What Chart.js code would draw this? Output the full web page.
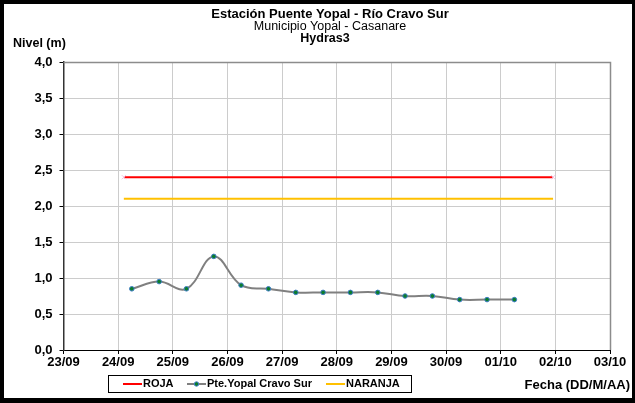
<!DOCTYPE html>
<html>
<head>
<meta charset="utf-8">
<script src="https://cdn.jsdelivr.net/npm/chart.js@4.4.0/dist/chart.umd.min.js"></script>
<style>
  body { margin: 0; background: #fff; }
  #wrap { width: 635px; height: 403px; }
</style>
</head>
<body>
<div id="wrap"><canvas id="nivelChart" width="635" height="403"></canvas></div>
<script>
// datos
const xTickLabels = ['23/09', '24/09', '25/09', '26/09', '27/09', '28/09', '29/09', '30/09', '01/10', '02/10', '03/10'];
const yTickLabels = ['0,0', '0,5', '1,0', '1,5', '2,0', '2,5', '3,0', '3,5', '4,0'];

const nivelTimes = ['24/09 06:00', '24/09 18:00', '25/09 06:00', '25/09 18:00', '26/09 06:00',
  '26/09 18:00', '27/09 06:00', '27/09 18:00', '28/09 06:00', '28/09 18:00',
  '29/09 06:00', '29/09 18:00', '30/09 06:00', '30/09 18:00', '01/10 06:00'];
const nivelValues = [0.85, 0.95, 0.85, 1.3, 0.9, 0.85, 0.8, 0.8, 0.8, 0.8, 0.75, 0.75, 0.7, 0.7, 0.7];

const alertaTimes = ['24/09 02:30', '01/10 23:00'];
const rojaValues = [2.4, 2.4];
const naranjaValues = [2.1, 2.1];

const seriesNames = ['ROJA', 'Pte.Yopal Cravo Sur', 'NARANJA'];

const titleLines = ['Estación Puente Yopal - Río Cravo Sur', 'Municipio Yopal - Casanare', 'Hydras3'];
const yAxisTitle = 'Nivel (m)';
const xAxisTitle = 'Fecha (DD/M/AA)';

// dias desde el 23/09 00:00
function toDays(txt)
{
  let parts = txt.split(' ');
  let dm = parts[0].split('/');
  let hm = parts[1].split(':');
  let day = parseInt(dm[0], 10);
  let month = parseInt(dm[1], 10);
  let base = month === 9 ? day - 23 : (30 - 23) + day;
  return base + (parseInt(hm[0], 10) + parseInt(hm[1], 10) / 60) / 24;
}

function toPoints(times, values)
{
  return times.map((t, i) => ({ x: toDays(t), y: values[i] }));
}

const FONT = '"Liberation Sans", Arial, sans-serif';

const frameAndText = {
  id: 'frameAndText',
  afterDraw(chart) {
    const ctx = chart.ctx;
    const area = chart.chartArea;
    ctx.save();

    // borde del area de trazado
    ctx.strokeStyle = '#8c8c8c';
    ctx.lineWidth = 1.5;
    ctx.beginPath();
    ctx.moveTo(area.left, area.top + 0.5);
    ctx.lineTo(area.right + 0.5, area.top + 0.5);
    ctx.lineTo(area.right + 0.5, area.bottom);
    ctx.stroke();

    // titulos
    ctx.fillStyle = '#000';
    ctx.textAlign = 'center';
    ctx.textBaseline = 'middle';
    ctx.font = 'bold 13px ' + FONT;
    ctx.fillText(titleLines[0], 330, 14);
    ctx.font = '12.5px ' + FONT;
    ctx.fillText(titleLines[1], 330, 26.5);
    ctx.font = 'bold 12.5px ' + FONT;
    ctx.fillText(titleLines[2], 325, 39);

    ctx.textAlign = 'left';
    ctx.fillText(yAxisTitle, 13, 44);
    ctx.font = 'bold 13px ' + FONT;
    ctx.textAlign = 'right';
    ctx.fillText(xAxisTitle, 630, 385);

    // leyenda
    ctx.strokeStyle = '#000';
    ctx.lineWidth = 1;
    ctx.strokeRect(108.5, 375.5, 303, 17);
    const itemX = [123, 187, 326];
    chart.data.datasets.forEach((ds, i) => {
      let x = itemX[i];
      let y = 384;
      ctx.strokeStyle = ds.borderColor;
      ctx.lineWidth = 2;
      ctx.beginPath();
      ctx.moveTo(x, y);
      ctx.lineTo(x + 19, y);
      ctx.stroke();
      if (i === 1) {
        ctx.fillStyle = ds.pointBackgroundColor;
        ctx.strokeStyle = ds.pointBorderColor;
        ctx.lineWidth = 1;
        ctx.beginPath();
        ctx.arc(x + 9.5, y, 2.2, 0, Math.PI * 2);
        ctx.fill();
        ctx.stroke();
      }
      ctx.fillStyle = '#000';
      ctx.textAlign = 'left';
      ctx.font = 'bold 11px ' + FONT;
      ctx.fillText(ds.label, x + 20, y);
    });

    // marco exterior
    ctx.fillStyle = '#000';
    ctx.fillRect(0, 0, 635, 4);
    ctx.fillRect(0, 398, 635, 5);
    ctx.fillRect(0, 0, 4, 403);
    ctx.fillRect(632, 0, 3, 403);

    ctx.restore();
  }
};

function show_nivel_chart()
{
  const ctx = document.getElementById('nivelChart');

  const data = {
    datasets: [
      {
        label: seriesNames[0],
        data: toPoints(alertaTimes, rojaValues),
        borderColor: '#ff0000',
        borderWidth: 2,
        pointStyle: 'crossRot',
        pointRadius: 3,
        pointBorderColor: '#f3c4e4',
        pointBorderWidth: 1,
        order: 2
      },
      {
        label: seriesNames[1],
        data: toPoints(nivelTimes, nivelValues),
        borderColor: '#808080',
        borderWidth: 2,
        tension: 0.4,
        pointRadius: 2.3,
        pointBackgroundColor: '#0a7d2c',
        pointBorderColor: '#3f7cc4',
        pointBorderWidth: 1,
        order: 1
      },
      {
        label: seriesNames[2],
        data: toPoints(alertaTimes, naranjaValues),
        borderColor: '#ffc000',
        borderWidth: 2,
        pointRadius: 0,
        order: 3
      }
    ]
  };

  new Chart(ctx, {
    type: 'line',
    data: data,
    options: {
      responsive: false,
      animation: false,
      devicePixelRatio: 1,
      layout: { padding: { top: 62, right: 25, left: 0, bottom: 0 } },
      plugins: {
        legend: { display: false },
        tooltip: { enabled: false }
      },
      scales: {
        x: {
          type: 'linear',
          min: 0,
          max: 10,
          afterFit: (scale) => { scale.height = 53; },
          afterBuildTicks: (scale) => {
            scale.ticks = xTickLabels.map((t, i) => ({ value: i }));
          },
          ticks: {
            maxRotation: 0,
            autoSkip: false,
            padding: 1,
            color: '#000',
            font: { family: FONT, size: 13, weight: 'bold' },
            callback: (v, i) => xTickLabels[i]
          },
          grid: { color: '#cccccc', lineWidth: 1, tickLength: 4, tickColor: '#000' },
          border: { color: '#000', width: 1 }
        },
        y: {
          min: 0,
          max: 4,
          afterFit: (scale) => { scale.width = 63.5; },
          afterBuildTicks: (scale) => {
            scale.ticks = yTickLabels.map((t, i) => ({ value: i * 0.5 }));
          },
          ticks: {
            padding: 7,
            color: '#000',
            font: { family: FONT, size: 13, weight: 'bold' },
            callback: (v, i) => yTickLabels[i]
          },
          grid: { color: '#cccccc', lineWidth: 1, tickLength: 4, tickColor: '#000' },
          border: { color: '#333', width: 1.5 }
        }
      }
    },
    plugins: [frameAndText]
  });
}

show_nivel_chart();
</script>
</body>
</html>
